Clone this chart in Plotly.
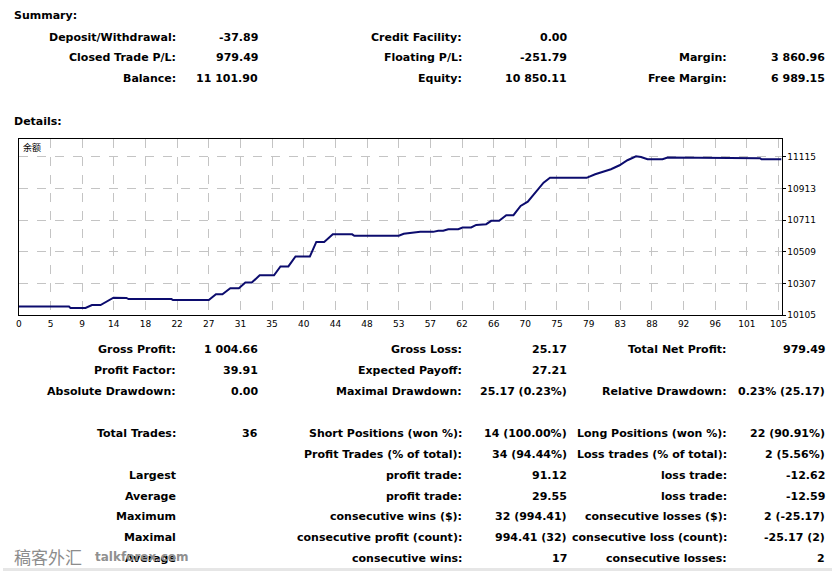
import plotly.graph_objects as go

W, H = 838, 576

# ---- data ----
balance_x = [0, 7.0, 7.2, 9.3, 10.2, 11.4, 13.2, 15.0, 15.3, 21.3,
             21.5, 26.5, 27.5, 28.4, 29.5, 30.7, 31.6, 32.5, 33.6, 35.6,
             36.5, 37.6, 38.6, 40.6, 41.5, 42.6, 43.8, 46.5, 46.8, 53.0,
             53.7, 56.0, 57.8, 58.5, 59.2, 59.9, 61.3, 61.9, 63.1, 63.8,
             65.2, 65.9, 67.0, 68.0, 69.0, 70.0, 71.0, 72.1, 73.2, 74.1,
             79.2, 80.4, 81.7, 82.6, 83.8, 84.9, 86.1, 86.8, 87.7, 89.8,
             90.5, 100.4, 100.6, 103.4, 103.6, 106.4]
balance_y = [10160, 10160, 10151, 10151, 10170, 10170, 10217, 10215, 10208, 10208,
             10202, 10202, 10239, 10239, 10277, 10277, 10313, 10313, 10359, 10359,
             10416, 10416, 10479, 10479, 10572, 10572, 10620, 10620, 10611, 10611,
             10624, 10636, 10636, 10643, 10643, 10653, 10653, 10664, 10664, 10680,
             10685, 10706, 10706, 10742, 10742, 10801, 10828, 10892, 10949, 10980,
             10980, 11003, 11024, 11035, 11060, 11092, 11117, 11113, 11098, 11098,
             11109, 11109, 11105, 11105, 11098, 11098]

x_tick_labels = ["0", "5", "9", "14", "18", "22", "27", "31", "35", "40", "44", "48", "53",
                 "57", "62", "66", "70", "75", "79", "83", "88", "92", "96", "101", "105"]
y_tick_values = [10105, 10307, 10509, 10711, 10913, 11115]

summary_c1_labels = ["Deposit/Withdrawal:", "Closed Trade P/L:", "Balance:"]
summary_c1_values = ["-37.89", "979.49", "11 101.90"]
summary_c2_labels = ["Credit Facility:", "Floating P/L:", "Equity:"]
summary_c2_values = ["0.00", "-251.79", "10 850.11"]
summary_c3_labels = ["", "Margin:", "Free Margin:"]
summary_c3_values = ["", "3 860.96", "6 989.15"]

det1_c1_labels = ["Gross Profit:", "Profit Factor:", "Absolute Drawdown:"]
det1_c1_values = ["1 004.66", "39.91", "0.00"]
det1_c2_labels = ["Gross Loss:", "Expected Payoff:", "Maximal Drawdown:"]
det1_c2_values = ["25.17", "27.21", "25.17 (0.23%)"]
det1_c3_labels = ["Total Net Profit:", "", "Relative Drawdown:"]
det1_c3_values = ["979.49", "", "0.23% (25.17)"]

det2_c1_labels = ["Total Trades:", "", "Largest", "Average", "Maximum", "Maximal", "Average"]
det2_c1_values = ["36", "", "", "", "", "", ""]
det2_c2_labels = ["Short Positions (won %):", "Profit Trades (% of total):", "profit trade:",
                  "profit trade:", "consecutive wins ($):", "consecutive profit (count):",
                  "consecutive wins:"]
det2_c2_values = ["14 (100.00%)", "34 (94.44%)", "91.12", "29.55", "32 (994.41)",
                  "994.41 (32)", "17"]
det2_c3_labels = ["Long Positions (won %):", "Loss trades (% of total):", "loss trade:",
                  "loss trade:", "consecutive losses ($):", "consecutive loss (count):",
                  "consecutive losses:"]
det2_c3_values = ["22 (90.91%)", "2 (5.56%)", "-12.62", "-12.59", "2 (-25.17)",
                  "-25.17 (2)", "2"]

# ---- layout helpers ----
def px(x):
    return x / W

def py(y):
    return 1 - y / H

X_MAX = 106.4
step = 32 * X_MAX / 771
Y_MIN, Y_MAX = 10105, 10105 + 178 * 202 / 32

fig = go.Figure()
fig.add_trace(go.Scatter(x=balance_x, y=balance_y, mode="lines",
                         line=dict(color="#0c0c6e", width=2), hoverinfo="skip",
                         showlegend=False))

FONT = "DejaVu Sans"
BOLD = dict(family=FONT, size=11, color="#000000", weight="bold")

annotations = []

def add_text(text, x, y, anchor="right", font=BOLD):
    if text == "":
        return
    annotations.append(dict(text=text, x=px(x), y=py(y), xref="paper", yref="paper",
                            xanchor=anchor, yanchor="middle", showarrow=False,
                            font=font))

def add_block(labels, values, label_right, value_right, rows):
    for lab, val, r in zip(labels, values, rows):
        add_text(lab, label_right, r)
        add_text(val, value_right, r)

add_text("Summary:", 9, 16, anchor="left")
add_text("Details:", 9, 123, anchor="left")

LR1, VR1, LR2, VR2, LR3, VR3 = 177, 260, 466, 572, 734, 833

rows_s = [37.5, 58.5, 79.5]
add_block(summary_c1_labels, summary_c1_values, LR1, VR1, rows_s)
add_block(summary_c2_labels, summary_c2_values, LR2, VR2, rows_s)
add_block(summary_c3_labels, summary_c3_values, LR3, VR3, rows_s)

rows_d1 = [352.5, 373.5, 394.5]
add_block(det1_c1_labels, det1_c1_values, LR1, VR1, rows_d1)
add_block(det1_c2_labels, det1_c2_values, LR2, VR2, rows_d1)
add_block(det1_c3_labels, det1_c3_values, LR3, VR3, rows_d1)

rows_d2 = [437.5, 458.5, 479.5, 500.5, 521.5, 542.5, 563.5]
add_block(det2_c1_labels, det2_c1_values, LR1, VR1, rows_d2)
add_block(det2_c2_labels, det2_c2_values, LR2, VR2, rows_d2)
add_block(det2_c3_labels, det2_c3_values, LR3, VR3, rows_d2)

# chart caption
add_text("余额", 18, 149, anchor="left",
         font=dict(family="Noto Sans CJK SC", size=9, color="#000000"))

# watermark
add_text("稿客外汇", 9, 561, anchor="left",
         font=dict(family="Noto Sans CJK SC", size=17, color="#8c8c8c"))
add_text("talkforex.com", 91, 562, anchor="left",
         font=dict(family=FONT, size=12, color="#909090", weight="bold"))

fig.update_layout(
    width=W, height=H,
    margin=dict(l=0, r=0, t=0, b=0),
    paper_bgcolor="#ffffff", plot_bgcolor="#ffffff",
    annotations=annotations,
    shapes=[dict(type="rect", xref="paper", yref="paper", x0=0, x1=1,
                 y0=0, y1=py(573), fillcolor="#e6e6e6", line=dict(width=0),
                 layer="below")],
    xaxis=dict(domain=[px(16), px(787)], range=[0, X_MAX],
               tickvals=[i * step for i in range(len(x_tick_labels))],
               ticktext=x_tick_labels, showgrid=True, gridcolor="#c4c4c4",
               griddash="dash", gridwidth=1, zeroline=False,
               showline=True, linecolor="#000000", linewidth=1, mirror=True,
               ticks="", tickfont=dict(family=FONT, size=9, color="#000000")),
    yaxis=dict(domain=[py(318), py(140)], range=[Y_MIN, Y_MAX], side="right",
               tickvals=y_tick_values, ticktext=[str(v) for v in y_tick_values],
               showgrid=True, gridcolor="#c4c4c4", griddash="dash", gridwidth=1,
               zeroline=False, showline=True, linecolor="#000000", linewidth=1,
               mirror=True, ticks="outside", ticklen=3, tickcolor="#000000",
               tickfont=dict(family=FONT, size=9, color="#000000")),
)

post = (
    "document.documentElement.style.margin='0';"
    "document.documentElement.style.overflow='hidden';"
    "document.body.style.margin='0';"
    "document.body.style.padding='0';"
    "document.body.style.overflow='hidden';"
    "document.body.style.height='576px';"
    "var d=document.getElementById('{plot_id}');"
    "var p=d.parentElement;"
    "p.style.height='576px';p.style.width='838px';p.style.overflow='hidden';"
    "p.style.lineHeight='0';p.style.fontSize='0';"
)

fig.write_html("out.html", config={"displayModeBar": False}, post_script=post)
